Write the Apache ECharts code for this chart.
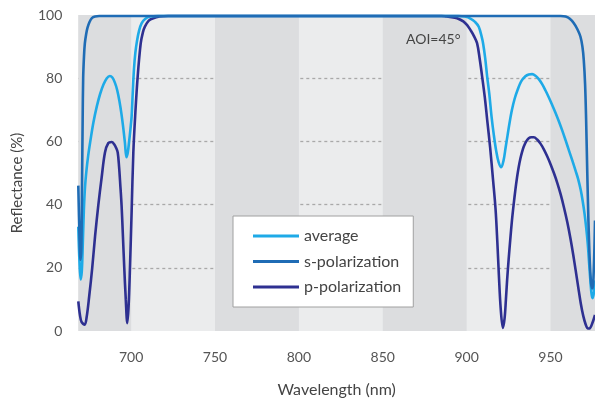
<!DOCTYPE html>
<html>
<head>
<meta charset="utf-8">
<script src="https://cdn.jsdelivr.net/npm/echarts@6/dist/echarts.min.js"></script>
<style>
  html, body { margin: 0; padding: 0; background: #ffffff; }
  #chart { width: 595px; height: 403px; }
</style>
</head>
<body>
<div id="chart"></div>
<script>
// Wavelength range shown on the x axis (nm)
const wlMin = 668.5;
const wlMax = 976.5;
const xTicks = [700, 750, 800, 850, 900, 950];

// Alternating darker bands behind the plot (nm)
const darkBands = [[668.5, 700], [750, 800], [850, 900], [950, 976.5]];

// Average reflectance (%)
const avgWl = [668.5, 669.2, 669.9, 670.6, 671.2, 671.8, 672.5, 673.4, 674.4, 675.8, 677.5, 679.5, 681.5, 683.5,
  685.5, 687.3, 688.8, 690.3, 691.7, 693, 694.2, 695.3, 696.3, 697.2, 698, 698.8, 699.6, 700.3, 701, 701.7, 702.5,
  703.4, 704.7, 706.3, 708.5, 711.2, 716,
  895, 899, 902.5, 905, 907.2, 909, 909.8, 911, 912.2, 913.5, 914.8, 916.2, 917.6, 919, 920.6, 922, 923.2, 924.4,
  925.6, 927, 928.6, 930.5, 932.5, 935, 937, 939, 941, 943, 945, 947, 949, 951, 953, 955, 957, 959, 961, 963, 965,
  966.5, 968, 969.2, 970.3, 971.3, 972.2, 973, 973.8, 974.5, 975.1, 975.8, 976.5];
const avgR = [33, 22, 16.3, 19, 28, 38, 45.5, 51, 55.5, 60.5, 66, 71, 75, 78,
  80, 80.7, 80.2, 78.6, 76.2, 72.8, 68.8, 64.3, 59.5, 55, 56.5, 60, 64, 68, 76, 83, 88,
  91.5, 95, 97.4, 98.8, 99.5, 99.7,
  99.7, 99.5, 98.8, 97.8, 96.3, 93, 91, 86.5, 80.6, 75, 68, 62, 57, 53.5, 51.8, 54, 58, 62,
  66, 70, 73.5, 76.5, 79, 80.6, 81.2, 81.3, 80.8, 79.7, 78.1, 76.1, 73.9, 71.5, 69, 66.3, 63.4, 60.3, 57.1, 53.9, 50.6,
  48, 44.6, 41, 37, 32.5, 27.5, 21.5, 15.5, 11.5, 10.4, 12, 16];

// s-polarization reflectance (%)
const sWl = [668.5, 669.2, 669.8, 670.3, 670.7, 671.1, 671.4, 671.9, 672.4, 673.2, 674, 675.2, 676.6, 678.5, 681,
  956, 959, 961.5, 963.9, 966, 967.8, 969, 969.8, 970.6, 971.2, 971.9, 972.6, 973.4, 974.2, 975, 975.8, 976.5];
const sR = [46, 30, 22.5, 26, 45, 67, 80, 87, 91, 94, 96, 97.8, 99, 99.5, 99.7,
  99.7, 99.5, 98.8, 97.4, 95.5, 93.2, 90, 85.8, 78, 67, 50, 34.6, 22, 15, 13.5, 20, 35];

// p-polarization reflectance (%)
const pWl = [668.5, 669.5, 670.5, 672.3, 673.5, 675, 676.8, 678.5, 680.4, 682.4, 684.4, 686.4, 688.4, 690, 691,
  692, 692.8, 693.5, 694.3, 695.1, 695.9, 696.8, 697.7, 698.5, 699.3, 700.3, 701.3, 702.5, 703.9, 705.7, 707,
  708.2, 710.5, 713.2, 717, 722,
  885, 888, 892, 894.3, 898, 900.3, 902.2, 904.2, 906.2, 907.8, 909.2, 910.8, 912.2, 914, 915.7, 917.2, 918.3,
  919.2, 920.3, 921.6, 922.6, 923.4, 924.1, 925, 926, 927, 928, 929, 930, 931, 932, 933, 934, 935.5, 937, 938.5,
  940, 942, 944, 946, 948, 950, 952, 954, 956, 958, 960, 962, 963.5, 965, 966.5, 968, 969.5, 971, 972.3, 973.5,
  975, 976.5];
const pR = [9.4, 5, 2.8, 2, 4.5, 11, 20, 30, 39.7, 48.5, 56.5, 59.5, 59.8, 59, 58,
  56.5, 52, 46.5, 39.7, 30, 20, 10, 2.5, 8, 20, 38, 56.5, 69, 80.6, 91, 94.5,
  96.3, 98.2, 99, 99.5, 99.7,
  99.7, 99.5, 99.2, 99, 98, 96.8, 95.3, 93.5, 91.1, 86, 80.6, 74, 67, 58, 48, 38.7, 28,
  17.7, 7, 1, 4, 10, 16, 22.5, 29, 35, 40, 44.5, 48.5, 51.8, 54.5, 56.6, 58.3, 60, 61, 61.3,
  61.3, 60.6, 59.3, 57.5, 55.3, 52.8, 50, 46.9, 43.3, 39.1, 34.4, 28.9, 24.2, 19.1, 13.9, 8.8, 4.8, 2, 0.8, 0.9,
  2.6, 5.1];

const pairs = (xs, ys) => xs.map((x, i) => [x, ys[i]]);

const COLOR_AVG = '#1eaae7';
const COLOR_S = '#1f6cb5';
const COLOR_P = '#2e3091';
const FONT = 'Lato';

const chart = echarts.init(document.getElementById('chart'), null, { renderer: 'canvas' });

const lineSeries = (name, data, color, z) => ({
  name: name,
  type: 'line',
  data: data,
  symbol: 'none',
  smooth: 0.35,
  clip: false,
  z: z,
  lineStyle: { color: color, width: 2.6 },
  itemStyle: { color: color }
});

chart.setOption({
  animation: false,
  backgroundColor: '#ffffff',
  textStyle: { fontFamily: FONT },
  grid: {
    left: 78.3, right: 0, top: 15, bottom: 70,
    show: true, backgroundColor: '#ebeced', borderWidth: 0, z: 0
  },
  xAxis: {
    type: 'value',
    min: wlMin, max: wlMax,
    z: 1,
    axisLine: { show: false },
    axisTick: { show: false },
    splitLine: { show: false },
    axisLabel: {
      customValues: xTicks,
      color: '#555555', fontSize: 14, fontFamily: FONT, margin: 19
    },
    name: 'Wavelength (nm)',
    nameLocation: 'middle',
    nameGap: 51,
    nameTextStyle: { color: '#444444', fontSize: 16, fontFamily: FONT }
  },
  yAxis: {
    type: 'value',
    min: 0, max: 100, interval: 20,
    z: 1,
    axisLine: { show: false },
    axisTick: { show: false },
    axisLabel: { color: '#555555', fontSize: 14, fontFamily: FONT, margin: 16 },
    splitLine: {
      show: true, showMinLine: false, showMaxLine: false,
      lineStyle: { color: '#a9a9a9', type: [3, 3], width: 1.3 }
    }
  },
  legend: {
    data: ['average', 's-polarization', 'p-polarization'],
    orient: 'vertical',
    left: 233, top: 216,
    icon: 'rect',
    itemWidth: 46, itemHeight: 3,
    itemGap: 7.5,
    padding: [11, 12, 11, 20],
    backgroundColor: '#ffffff',
    borderColor: '#a0a0a0',
    borderWidth: 1,
    borderRadius: 0,
    textStyle: { color: '#444444', fontSize: 16, fontFamily: FONT, lineHeight: 18 }
  },
  graphic: [
    {
      type: 'text',
      left: 406, top: 32,
      z: 10,
      style: { text: 'AOI=45°', fill: '#444444', fontSize: 14, fontFamily: FONT }
    },
    {
      type: 'text',
      x: 17, y: 183,
      rotation: Math.PI / 2,
      z: 10,
      style: {
        text: 'Reflectance (%)', fill: '#444444', fontSize: 15, fontFamily: FONT,
        align: 'center', verticalAlign: 'middle'
      }
    }
  ],
  series: [
    {
      name: 'bands',
      type: 'line',
      data: [],
      z: 0.5,
      silent: true,
      markArea: {
        silent: true,
        itemStyle: { color: '#dcdddf' },
        data: darkBands.map(b => [{ xAxis: b[0] }, { xAxis: b[1] }])
      }
    },
    lineSeries('p-polarization', pairs(pWl, pR), COLOR_P, 3),
    lineSeries('average', pairs(avgWl, avgR), COLOR_AVG, 4),
    lineSeries('s-polarization', pairs(sWl, sR), COLOR_S, 5)
  ]
});
</script>
</body>
</html>
